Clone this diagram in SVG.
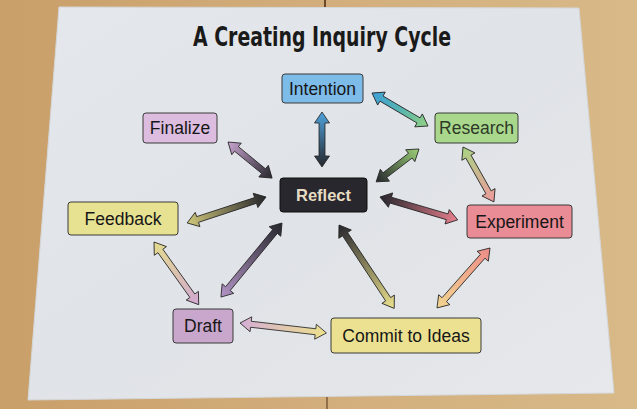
<svg xmlns="http://www.w3.org/2000/svg" width="637" height="409" viewBox="0 0 637 409">
<style>
.box{stroke:#3a3a3a;stroke-width:1}
.lbl{font-family:"Liberation Sans",Arial,sans-serif;font-size:17.5px;fill:#161616;text-anchor:middle}
.arr{stroke:#222;stroke-width:0.8;stroke-linejoin:miter}
</style>
<defs>
<linearGradient id="wood" x1="0" y1="0" x2="1" y2="0"><stop offset="0" stop-color="#c99f69"/><stop offset="0.5" stop-color="#d2ae7c"/><stop offset="1" stop-color="#d8b988"/></linearGradient>
<linearGradient id="paper" x1="0" y1="0" x2="1" y2="1"><stop offset="0" stop-color="#e4e7eb"/><stop offset="0.5" stop-color="#e0e3e7"/><stop offset="1" stop-color="#e6e8eb"/></linearGradient>
<linearGradient id="gBlueDark"><stop offset="0" stop-color="#4fa3dd"/><stop offset="1" stop-color="#26262c"/></linearGradient>
<linearGradient id="gBlueGreen"><stop offset="0" stop-color="#3f9fd8"/><stop offset="0.5" stop-color="#55b3b0"/><stop offset="1" stop-color="#94d283"/></linearGradient>
<linearGradient id="gGreenDark"><stop offset="0" stop-color="#9bd077"/><stop offset="1" stop-color="#26262c"/></linearGradient>
<linearGradient id="gGreenPink"><stop offset="0" stop-color="#a8d483"/><stop offset="1" stop-color="#ee9a9c"/></linearGradient>
<linearGradient id="gLavDark"><stop offset="0" stop-color="#c9a5d0"/><stop offset="1" stop-color="#26262c"/></linearGradient>
<linearGradient id="gDarkOlive"><stop offset="0" stop-color="#26262c"/><stop offset="1" stop-color="#cfc77a"/></linearGradient>
<linearGradient id="gDarkPink"><stop offset="0" stop-color="#26262c"/><stop offset="1" stop-color="#e7808e"/></linearGradient>
<linearGradient id="gYelLav"><stop offset="0" stop-color="#e4dc8c"/><stop offset="1" stop-color="#d2a8d2"/></linearGradient>
<linearGradient id="gDarkPurple"><stop offset="0" stop-color="#26262c"/><stop offset="1" stop-color="#b395c6"/></linearGradient>
<linearGradient id="gDarkYellow"><stop offset="0" stop-color="#26262c"/><stop offset="1" stop-color="#ece28e"/></linearGradient>
<linearGradient id="gPinkYellow"><stop offset="0" stop-color="#ec8c88"/><stop offset="1" stop-color="#f1d690"/></linearGradient>
<linearGradient id="gLavYellow"><stop offset="0" stop-color="#d5aed6"/><stop offset="1" stop-color="#ece08c"/></linearGradient>
</defs>

<!-- background scene -->
<rect x="0" y="0" width="637" height="409" fill="url(#wood)"/>
<line x1="325" y1="0" x2="325" y2="8" stroke="#6a4a2a" stroke-width="2"/>
<line x1="327" y1="397" x2="327" y2="409" stroke="#7a5a38" stroke-width="1.5"/>
<polygon points="59,7 579,8 614,393 28,400" fill="url(#paper)" stroke="#d4d6d8" stroke-width="1"/>

<text x="322" y="46" font-family="'DejaVu Sans Condensed','DejaVu Sans',sans-serif" font-weight="bold" font-size="26" fill="#1a1a1a" text-anchor="middle" textLength="258" lengthAdjust="spacingAndGlyphs">A Creating Inquiry Cycle</text>

<g id="connectors">
<path class="arr" fill="url(#gBlueDark)" transform="translate(322,112) rotate(90)" d="M0,0 L11,-7.5 L11,-3 L44,-3 L44,-7.5 L55,0 L44,7.5 L44,3 L11,3 L11,7.5Z"/>
<path class="arr" fill="url(#gBlueGreen)" transform="translate(372,93) rotate(30.5)" d="M0,0 L11,-7.5 L11,-3 L54,-3 L54,-7.5 L65,0 L54,7.5 L54,3 L11,3 L11,7.5Z"/>
<path class="arr" fill="url(#gGreenDark)" transform="translate(419,149) rotate(142.5)" d="M0,0 L11,-7.5 L11,-3 L43,-3 L43,-7.5 L54,0 L43,7.5 L43,3 L11,3 L11,7.5Z"/>
<path class="arr" fill="url(#gGreenPink)" transform="translate(463,147) rotate(60.6)" d="M0,0 L11,-7.5 L11,-3 L52,-3 L52,-7.5 L63,0 L52,7.5 L52,3 L11,3 L11,7.5Z"/>
<path class="arr" fill="url(#gLavDark)" transform="translate(228,142) rotate(39.3)" d="M0,0 L11,-7.5 L11,-3 L46,-3 L46,-7.5 L57,0 L46,7.5 L46,3 L11,3 L11,7.5Z"/>
<path class="arr" fill="url(#gDarkOlive)" transform="translate(266,197) rotate(161.8)" d="M0,0 L11,-7.5 L11,-3 L72,-3 L72,-7.5 L83,0 L72,7.5 L72,3 L11,3 L11,7.5Z"/>
<path class="arr" fill="url(#gDarkPink)" transform="translate(380,197) rotate(16.4)" d="M0,0 L11,-7.5 L11,-3 L70,-3 L70,-7.5 L81,0 L70,7.5 L70,3 L11,3 L11,7.5Z"/>
<path class="arr" fill="url(#gYelLav)" transform="translate(154,242) rotate(54.5)" d="M0,0 L11,-7.5 L11,-3 L66,-3 L66,-7.5 L77,0 L66,7.5 L66,3 L11,3 L11,7.5Z"/>
<path class="arr" fill="url(#gDarkPurple)" transform="translate(282,223) rotate(129.5)" d="M0,0 L11,-7.5 L11,-3 L85,-3 L85,-7.5 L96,0 L85,7.5 L85,3 L11,3 L11,7.5Z"/>
<path class="arr" fill="url(#gDarkYellow)" transform="translate(339,225) rotate(56.5)" d="M0,0 L11,-7.5 L11,-3 L89,-3 L89,-7.5 L100,0 L89,7.5 L89,3 L11,3 L11,7.5Z"/>
<path class="arr" fill="url(#gPinkYellow)" transform="translate(490,248) rotate(131.5)" d="M0,0 L11,-7.5 L11,-3 L69,-3 L69,-7.5 L80,0 L69,7.5 L69,3 L11,3 L11,7.5Z"/>
<path class="arr" fill="url(#gLavYellow)" transform="translate(240,323) rotate(6.6)" d="M0,0 L11,-7.5 L11,-3 L76,-3 L76,-7.5 L87,0 L76,7.5 L76,3 L11,3 L11,7.5Z"/>
</g>

<g id="intention"><rect class="box" x="282" y="74" width="81" height="29" rx="3" fill="#7dbbe9"/><text class="lbl" x="322.5" y="94.5">Intention</text></g>
<g id="research"><rect class="box" x="435" y="113" width="83" height="30" rx="3" fill="#a9d78c"/><text class="lbl" x="476.5" y="134" style="fill:#2e3a28">Research</text></g>
<g id="finalize"><rect class="box" x="143" y="113" width="74" height="30" rx="3" fill="#dcbde0"/><text class="lbl" x="180" y="134">Finalize</text></g>
<g id="reflect"><rect x="280" y="178" width="87" height="34" rx="3" fill="#27272d" stroke="#111" stroke-width="1"/><text class="lbl" x="323.5" y="201" font-weight="bold" style="font-size:16.5px;fill:#e6dcc4">Reflect</text></g>
<g id="feedback"><rect class="box" x="68" y="202" width="110" height="33" rx="3" fill="#e7e192"/><text class="lbl" x="123" y="224.5">Feedback</text></g>
<g id="experiment"><rect class="box" x="467" y="205" width="105" height="33" rx="3" fill="#e98c95"/><text class="lbl" x="519.5" y="227.5">Experiment</text></g>
<g id="draft"><rect class="box" x="173" y="309" width="60" height="34" rx="3" fill="#c9a6cb"/><text class="lbl" x="203" y="332">Draft</text></g>
<g id="commit"><rect class="box" x="331" y="318" width="150" height="35" rx="3" fill="#ece191"/><text class="lbl" x="406" y="341.5">Commit to Ideas</text></g>
</svg>
